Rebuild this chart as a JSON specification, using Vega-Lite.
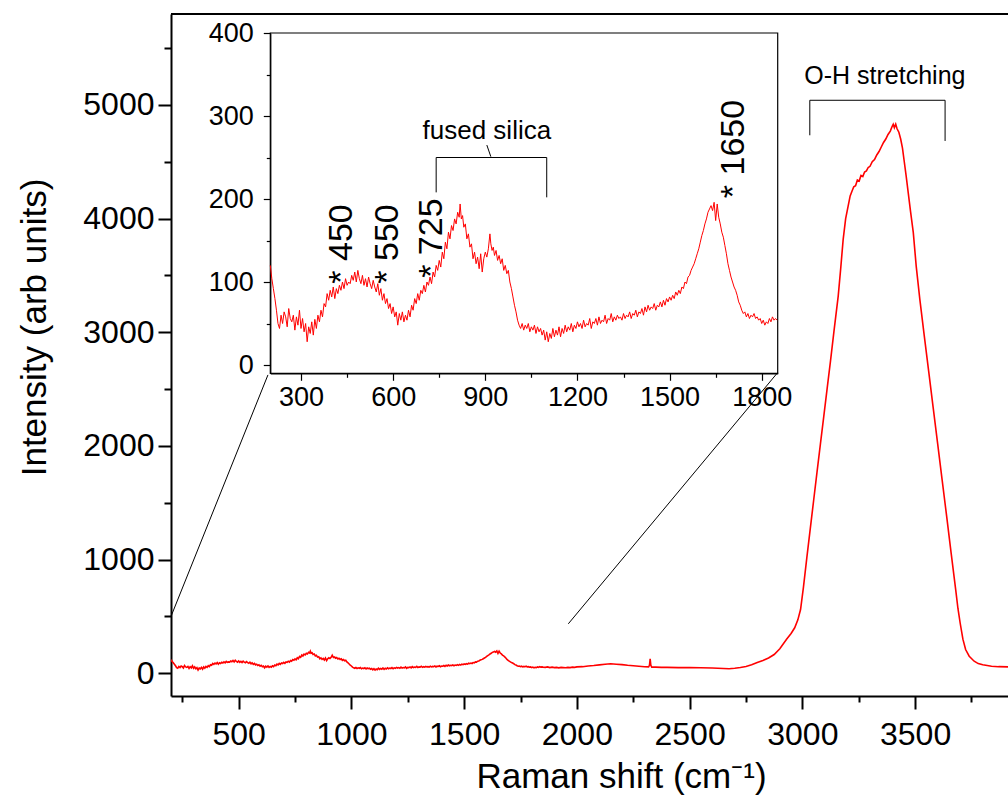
{
"$schema": "https://vega.github.io/schema/vega-lite/v6.json",
"width": 837, "height": 682,
"autosize": "none",
"padding": {"left": 171, "top": 14, "right": 0, "bottom": 104},
"background": "white",
"config": {
  "view": {"stroke": null},
  "font": "Liberation Sans",
  "axis": {"grid": false, "labelFont": "Liberation Sans", "titleFont": "Liberation Sans", "labelColor": "black", "titleColor": "black", "domainColor": "black", "tickColor": "black", "labelFlush": false, "labelOverlap": false, "titleFontWeight": "normal"},
  "text": {"font": "Liberation Sans", "color": "black"}
},
"datasets": {
 "one": [{}],
 "spec": [
{"x":200,"y":120},{"x":205,"y":104},{"x":210,"y":92},{"x":215,"y":80},{"x":220,"y":66},{"x":225,"y":50},{"x":230,"y":44},{"x":235,"y":60},{"x":240,"y":50},{"x":245,"y":64},{"x":250,"y":58},{"x":255,"y":46},{"x":260,"y":68},{"x":265,"y":56},{"x":270,"y":52},{"x":275,"y":60},{"x":280,"y":42},{"x":285,"y":58},{"x":290,"y":48},{"x":295,"y":66},{"x":300,"y":44},{"x":305,"y":56},{"x":310,"y":40},{"x":315,"y":50},{"x":320,"y":28},{"x":325,"y":46},{"x":330,"y":38},{"x":335,"y":52},{"x":340,"y":36},{"x":345,"y":55},{"x":350,"y":44},{"x":355,"y":60},{"x":360,"y":52},{"x":365,"y":66},{"x":370,"y":58},{"x":375,"y":74},{"x":380,"y":70},{"x":385,"y":86},{"x":390,"y":78},{"x":395,"y":90},{"x":400,"y":82},{"x":405,"y":94},{"x":410,"y":80},{"x":415,"y":92},{"x":420,"y":86},{"x":425,"y":96},{"x":430,"y":90},{"x":435,"y":100},{"x":440,"y":92},{"x":445,"y":104},{"x":450,"y":96},{"x":455,"y":100},{"x":460,"y":98},{"x":465,"y":108},{"x":470,"y":102},{"x":475,"y":112},{"x":480,"y":100},{"x":485,"y":114},{"x":490,"y":104},{"x":495,"y":98},{"x":500,"y":108},{"x":505,"y":96},{"x":510,"y":104},{"x":515,"y":94},{"x":520,"y":106},{"x":525,"y":98},{"x":530,"y":92},{"x":535,"y":102},{"x":540,"y":94},{"x":545,"y":88},{"x":550,"y":98},{"x":555,"y":84},{"x":560,"y":92},{"x":565,"y":78},{"x":570,"y":86},{"x":575,"y":74},{"x":580,"y":80},{"x":585,"y":68},{"x":590,"y":74},{"x":595,"y":62},{"x":600,"y":70},{"x":605,"y":58},{"x":610,"y":64},{"x":615,"y":48},{"x":620,"y":62},{"x":625,"y":54},{"x":630,"y":64},{"x":635,"y":52},{"x":640,"y":60},{"x":645,"y":54},{"x":650,"y":66},{"x":655,"y":58},{"x":660,"y":72},{"x":665,"y":66},{"x":670,"y":80},{"x":675,"y":74},{"x":680,"y":86},{"x":685,"y":78},{"x":690,"y":90},{"x":695,"y":86},{"x":700,"y":96},{"x":705,"y":88},{"x":710,"y":100},{"x":715,"y":96},{"x":720,"y":106},{"x":725,"y":98},{"x":730,"y":112},{"x":735,"y":106},{"x":740,"y":120},{"x":745,"y":114},{"x":750,"y":126},{"x":755,"y":118},{"x":760,"y":136},{"x":765,"y":128},{"x":770,"y":148},{"x":775,"y":140},{"x":780,"y":160},{"x":785,"y":152},{"x":790,"y":168},{"x":795,"y":162},{"x":800,"y":176},{"x":805,"y":170},{"x":810,"y":184},{"x":815,"y":178},{"x":818,"y":194},{"x":822,"y":176},{"x":826,"y":180},{"x":830,"y":166},{"x":835,"y":170},{"x":840,"y":152},{"x":845,"y":158},{"x":850,"y":142},{"x":855,"y":146},{"x":860,"y":128},{"x":865,"y":136},{"x":870,"y":122},{"x":875,"y":130},{"x":880,"y":116},{"x":885,"y":134},{"x":890,"y":112},{"x":895,"y":128},{"x":900,"y":136},{"x":905,"y":130},{"x":910,"y":140},{"x":915,"y":158},{"x":918,"y":146},{"x":922,"y":138},{"x":926,"y":142},{"x":930,"y":132},{"x":935,"y":138},{"x":940,"y":126},{"x":945,"y":132},{"x":950,"y":122},{"x":955,"y":128},{"x":960,"y":114},{"x":965,"y":120},{"x":970,"y":110},{"x":975,"y":114},{"x":980,"y":100},{"x":985,"y":92},{"x":990,"y":82},{"x":995,"y":72},{"x":1000,"y":64},{"x":1005,"y":54},{"x":1010,"y":48},{"x":1015,"y":44},{"x":1020,"y":50},{"x":1025,"y":42},{"x":1030,"y":48},{"x":1035,"y":44},{"x":1040,"y":50},{"x":1045,"y":40},{"x":1050,"y":46},{"x":1055,"y":42},{"x":1060,"y":48},{"x":1065,"y":38},{"x":1070,"y":46},{"x":1075,"y":40},{"x":1080,"y":44},{"x":1085,"y":36},{"x":1090,"y":42},{"x":1095,"y":30},{"x":1100,"y":40},{"x":1105,"y":28},{"x":1110,"y":38},{"x":1115,"y":32},{"x":1120,"y":44},{"x":1125,"y":34},{"x":1130,"y":42},{"x":1135,"y":36},{"x":1140,"y":46},{"x":1145,"y":34},{"x":1150,"y":44},{"x":1155,"y":38},{"x":1160,"y":48},{"x":1165,"y":40},{"x":1170,"y":46},{"x":1175,"y":42},{"x":1180,"y":50},{"x":1185,"y":40},{"x":1190,"y":48},{"x":1195,"y":44},{"x":1200,"y":52},{"x":1205,"y":46},{"x":1210,"y":50},{"x":1215,"y":44},{"x":1220,"y":54},{"x":1225,"y":46},{"x":1230,"y":50},{"x":1235,"y":48},{"x":1240,"y":56},{"x":1245,"y":44},{"x":1250,"y":52},{"x":1255,"y":50},{"x":1260,"y":56},{"x":1265,"y":48},{"x":1270,"y":58},{"x":1275,"y":50},{"x":1280,"y":54},{"x":1285,"y":52},{"x":1290,"y":60},{"x":1295,"y":50},{"x":1300,"y":56},{"x":1305,"y":54},{"x":1310,"y":62},{"x":1315,"y":52},{"x":1320,"y":58},{"x":1325,"y":54},{"x":1330,"y":60},{"x":1335,"y":56},{"x":1340,"y":58},{"x":1345,"y":54},{"x":1350,"y":62},{"x":1355,"y":56},{"x":1360,"y":60},{"x":1365,"y":58},{"x":1370,"y":64},{"x":1375,"y":56},{"x":1380,"y":62},{"x":1385,"y":60},{"x":1390,"y":66},{"x":1395,"y":58},{"x":1400,"y":64},{"x":1405,"y":62},{"x":1410,"y":68},{"x":1415,"y":60},{"x":1420,"y":70},{"x":1425,"y":64},{"x":1430,"y":72},{"x":1435,"y":66},{"x":1440,"y":70},{"x":1445,"y":68},{"x":1450,"y":74},{"x":1455,"y":66},{"x":1460,"y":72},{"x":1465,"y":70},{"x":1470,"y":76},{"x":1475,"y":70},{"x":1480,"y":78},{"x":1485,"y":72},{"x":1490,"y":80},{"x":1495,"y":76},{"x":1500,"y":82},{"x":1505,"y":78},{"x":1510,"y":84},{"x":1515,"y":80},{"x":1520,"y":88},{"x":1525,"y":84},{"x":1530,"y":90},{"x":1535,"y":86},{"x":1540,"y":94},{"x":1545,"y":92},{"x":1550,"y":100},{"x":1555,"y":98},{"x":1560,"y":106},{"x":1565,"y":108},{"x":1570,"y":114},{"x":1575,"y":118},{"x":1580,"y":122},{"x":1585,"y":128},{"x":1590,"y":134},{"x":1595,"y":140},{"x":1600,"y":148},{"x":1605,"y":156},{"x":1610,"y":162},{"x":1615,"y":170},{"x":1620,"y":176},{"x":1625,"y":184},{"x":1630,"y":188},{"x":1635,"y":192},{"x":1640,"y":186},{"x":1645,"y":196},{"x":1650,"y":174},{"x":1655,"y":194},{"x":1660,"y":178},{"x":1665,"y":170},{"x":1670,"y":160},{"x":1675,"y":154},{"x":1680,"y":144},{"x":1685,"y":134},{"x":1690,"y":122},{"x":1695,"y":114},{"x":1700,"y":106},{"x":1705,"y":100},{"x":1710,"y":94},{"x":1715,"y":90},{"x":1720,"y":84},{"x":1725,"y":76},{"x":1730,"y":72},{"x":1735,"y":66},{"x":1740,"y":62},{"x":1745,"y":64},{"x":1750,"y":58},{"x":1755,"y":62},{"x":1760,"y":56},{"x":1765,"y":60},{"x":1770,"y":58},{"x":1775,"y":62},{"x":1780,"y":56},{"x":1785,"y":58},{"x":1790,"y":54},{"x":1795,"y":56},{"x":1800,"y":50},{"x":1805,"y":54},{"x":1810,"y":48},{"x":1815,"y":52},{"x":1820,"y":50},{"x":1825,"y":56},{"x":1830,"y":52},{"x":1835,"y":58},{"x":1840,"y":54},{"x":1845,"y":56},{"x":1850,"y":54},
{"x":1860,"y":52},{"x":1870,"y":56},{"x":1880,"y":50},{"x":1890,"y":54},{"x":1900,"y":50},{"x":1910,"y":52},{"x":1920,"y":48},{"x":1930,"y":52},{"x":1940,"y":50},{"x":1950,"y":48},{"x":1960,"y":52},{"x":1970,"y":50},{"x":1980,"y":54},{"x":1990,"y":52},{"x":2000,"y":56},{"x":2025,"y":58},{"x":2050,"y":64},{"x":2075,"y":68},{"x":2100,"y":74},{"x":2125,"y":80},{"x":2150,"y":84},{"x":2175,"y":80},{"x":2200,"y":76},{"x":2225,"y":70},{"x":2250,"y":66},{"x":2275,"y":62},{"x":2300,"y":58},{"x":2318,"y":56},{"x":2322,"y":70},{"x":2325,"y":128},{"x":2328,"y":70},{"x":2332,"y":54},{"x":2350,"y":54},{"x":2375,"y":52},{"x":2400,"y":52},{"x":2450,"y":50},{"x":2500,"y":50},{"x":2550,"y":48},{"x":2600,"y":46},{"x":2650,"y":42},{"x":2675,"y":40},{"x":2700,"y":44},{"x":2725,"y":50},{"x":2750,"y":60},{"x":2775,"y":74},{"x":2800,"y":94},{"x":2825,"y":112},{"x":2850,"y":134},{"x":2875,"y":165},{"x":2900,"y":215},{"x":2930,"y":300},{"x":2950,"y":350},{"x":2966,"y":400},{"x":2980,"y":470},{"x":2992,"y":561},{"x":3005,"y":760},{"x":3020,"y":1020},{"x":3035,"y":1270},{"x":3050,"y":1520},{"x":3065,"y":1770},{"x":3080,"y":2016},{"x":3095,"y":2260},{"x":3110,"y":2507},{"x":3125,"y":2750},{"x":3140,"y":3005},{"x":3159,"y":3318},{"x":3170,"y":3560},{"x":3181,"y":3817},{"x":3192,"y":4000},{"x":3203,"y":4110},{"x":3212,"y":4200},{"x":3220,"y":4240},{"x":3228,"y":4280},{"x":3236,"y":4290},{"x":3244,"y":4340},{"x":3252,"y":4330},{"x":3260,"y":4380},{"x":3268,"y":4370},{"x":3276,"y":4410},{"x":3284,"y":4420},{"x":3292,"y":4450},{"x":3300,"y":4460},{"x":3310,"y":4500},{"x":3320,"y":4520},{"x":3330,"y":4560},{"x":3340,"y":4590},{"x":3350,"y":4630},{"x":3360,"y":4670},{"x":3370,"y":4700},{"x":3380,"y":4740},{"x":3390,"y":4770},{"x":3398,"y":4810},{"x":3403,"y":4830},{"x":3408,"y":4800},{"x":3414,"y":4830},{"x":3420,"y":4790},{"x":3428,"y":4760},{"x":3436,"y":4700},{"x":3444,"y":4620},{"x":3452,"y":4500},{"x":3460,"y":4380},{"x":3470,"y":4220},{"x":3480,"y":4060},{"x":3492,"y":3876},{"x":3505,"y":3580},{"x":3521,"y":3289},{"x":3540,"y":2980},{"x":3560,"y":2660},{"x":3580,"y":2340},{"x":3600,"y":2020},{"x":3620,"y":1700},{"x":3640,"y":1380},{"x":3660,"y":1055},{"x":3680,"y":735},{"x":3690,"y":570},{"x":3700,"y":440},{"x":3712,"y":300},{"x":3724,"y":209},{"x":3740,"y":150},{"x":3762,"y":106},{"x":3780,"y":85},{"x":3800,"y":75},{"x":3839,"y":62},{"x":3870,"y":58},{"x":3912,"y":56}
 ],
 "mainRules": [
  {"x":3033,"y":5041,"x2":3633,"y2":5041},
  {"x":3033,"y":5041,"x2":3033,"y2":4733},
  {"x":3633,"y":5041,"x2":3633,"y2":4683},
  {"x":200,"y":500,"x2":630,"y2":2625},
  {"x":1962,"y":435,"x2":2890,"y2":2644}
 ],
 "insetRules": [
  {"x":740,"y":250,"x2":1100,"y2":250},
  {"x":740,"y":250,"x2":740,"y2":208},
  {"x":1100,"y":250,"x2":1100,"y2":202},
  {"x":905,"y":265,"x2":918,"y2":251}
 ],
 "peaks": [
  {"x":466,"y":98,"label":"* 450"},
  {"x":617,"y":98,"label":"* 550"},
  {"x":759,"y":105,"label":"* 725"},
  {"x":1741,"y":201,"label":"* 1650"}
 ]
},
"layer": [
 {
  "data": {"name": "spec"},
  "mark": {"type": "line", "color": "#ff0000", "strokeWidth": 1.6, "clip": true},
  "encoding": {
   "x": {"field": "x", "type": "quantitative", "scale": {"domain": [200, 3912], "nice": false, "zero": false},
     "axis": {"orient": "bottom", "values": [500,1000,1500,2000,2500,3000,3500], "format": "d",
       "tickSize": 13, "tickWidth": 2, "domainWidth": 2, "labelFontSize": 32, "labelPadding": 10,
       "title": "Raman shift (cm⁻¹)", "titleFontSize": 35, "titleX": 450, "titleY": 91, "titleBaseline": "alphabetic", "titleAlign": "center"}},
   "y": {"field": "y", "type": "quantitative", "scale": {"domain": [-200, 5800], "nice": false, "zero": false},
     "axis": {"orient": "left", "values": [0,1000,2000,3000,4000,5000], "format": "d",
       "tickSize": 13, "tickWidth": 2, "domainWidth": 2, "labelFontSize": 32, "labelPadding": 4,
       "title": "Intensity (arb units)", "titleFontSize": 35, "titleX": -126, "titleY": 313, "titleAngle": 270, "titleBaseline": "alphabetic", "titleAlign": "center"}}
  }
 },
 {
  "data": {"name": "mainRules"},
  "mark": {"type": "rule", "color": "black", "strokeWidth": 1},
  "encoding": {
   "x": {"field": "x", "type": "quantitative", "scale": {"domain": [200, 3912], "nice": false, "zero": false}, "axis": null},
   "y": {"field": "y", "type": "quantitative", "scale": {"domain": [-200, 5800], "nice": false, "zero": false}, "axis": null},
   "x2": {"field": "x2"}, "y2": {"field": "y2"}
  }
 },
 {
  "data": {"name": "one"},
  "mark": {"type": "rule", "color": "black", "strokeWidth": 2},
  "encoding": {
   "x": {"datum": 200, "type": "quantitative", "scale": {"domain": [200, 3912], "nice": false, "zero": false}, "axis": null},
   "x2": {"datum": 3912},
   "y": {"datum": 5800, "type": "quantitative", "scale": {"domain": [-200, 5800], "nice": false, "zero": false}, "axis": null}
  }
 },
 {
  "data": {"name": "one"},
  "mark": {"type": "text", "fontSize": 25, "align": "center", "baseline": "alphabetic"},
  "encoding": {
   "x": {"datum": 3366, "type": "quantitative", "scale": {"domain": [200, 3912], "nice": false, "zero": false}, "axis": null},
   "y": {"datum": 5181, "type": "quantitative", "scale": {"domain": [-200, 5800], "nice": false, "zero": false}, "axis": null},
   "text": {"value": "O-H stretching"}
  }
 },
 {
  "data": {"name": "one"},
  "mark": {"type": "point", "opacity": 0},
  "encoding": {
   "x": {"datum": 200, "type": "quantitative", "scale": {"domain": [200, 3912], "nice": false, "zero": false},
     "axis": {"orient": "bottom", "values": [250,750,1250,1750,2250,2750,3250,3750], "labels": false, "domain": false, "tickSize": 6, "tickWidth": 2, "title": null}},
   "y": {"datum": 0, "type": "quantitative", "scale": {"domain": [-200, 5800], "nice": false, "zero": false},
     "axis": {"orient": "left", "values": [500,1500,2500,3500,4500,5500], "labels": false, "domain": false, "tickSize": 7, "tickWidth": 2, "title": null}}
  }
 },
 {
  "data": {"name": "one"},
  "mark": {"type": "rect", "filled": false, "stroke": "black", "strokeWidth": 1.2},
  "encoding": {
   "x": {"datum": 200, "type": "quantitative", "scale": {"domain": [200, 1852], "range": [99.3, 606.7], "nice": false, "zero": false}, "axis": null},
   "x2": {"datum": 1852},
   "y": {"datum": -10, "type": "quantitative", "scale": {"domain": [-10, 400], "range": [359.3, 19], "nice": false, "zero": false}, "axis": null},
   "y2": {"datum": 400}
  }
 },
 {
  "data": {"name": "spec"},
  "transform": [{"filter": "datum.x <= 1852"}],
  "mark": {"type": "line", "color": "#ff0000", "strokeWidth": 1},
  "encoding": {
   "x": {"field": "x", "type": "quantitative", "scale": {"domain": [200, 1852], "range": [99.3, 606.7], "nice": false, "zero": false},
     "axis": {"orient": "bottom", "offset": -322.7, "values": [300,600,900,1200,1500,1800], "format": "d",
       "tickSize": 7, "tickWidth": 1.2, "domainWidth": 1.2, "labelFontSize": 27, "labelPadding": 4, "title": null}},
   "y": {"field": "y", "type": "quantitative", "scale": {"domain": [-10, 400], "range": [359.3, 19], "nice": false, "zero": false},
     "axis": {"orient": "left", "offset": -99.3, "values": [0,100,200,300,400], "format": "d",
       "tickSize": 7, "tickWidth": 1.2, "domainWidth": 1.2, "labelFontSize": 27, "labelPadding": 10, "title": null}}
  }
 },
 {
  "data": {"name": "one"},
  "mark": {"type": "point", "opacity": 0},
  "encoding": {
   "x": {"datum": 300, "type": "quantitative", "scale": {"domain": [200, 1852], "range": [99.3, 606.7], "nice": false, "zero": false},
     "axis": {"orient": "bottom", "offset": -322.7, "values": [450,750,1050,1350,1650], "labels": false, "domain": false, "tickSize": 4, "tickWidth": 1.2, "title": null}},
   "y": {"datum": 100, "type": "quantitative", "scale": {"domain": [-10, 400], "range": [359.3, 19], "nice": false, "zero": false},
     "axis": {"orient": "left", "offset": -99.3, "values": [50,150,250,350], "labels": false, "domain": false, "tickSize": 4, "tickWidth": 1.2, "title": null}}
  }
 },
 {
  "data": {"name": "insetRules"},
  "mark": {"type": "rule", "color": "black", "strokeWidth": 1},
  "encoding": {
   "x": {"field": "x", "type": "quantitative", "scale": {"domain": [200, 1852], "range": [99.3, 606.7], "nice": false, "zero": false}, "axis": null},
   "y": {"field": "y", "type": "quantitative", "scale": {"domain": [-10, 400], "range": [359.3, 19], "nice": false, "zero": false}, "axis": null},
   "x2": {"field": "x2"}, "y2": {"field": "y2"}
  }
 },
 {
  "data": {"name": "peaks"},
  "mark": {"type": "text", "fontSize": 34, "angle": 270, "align": "left", "baseline": "alphabetic"},
  "encoding": {
   "x": {"field": "x", "type": "quantitative", "scale": {"domain": [200, 1852], "range": [99.3, 606.7], "nice": false, "zero": false}, "axis": null},
   "y": {"field": "y", "type": "quantitative", "scale": {"domain": [-10, 400], "range": [359.3, 19], "nice": false, "zero": false}, "axis": null},
   "text": {"field": "label"}
  }
 },
 {
  "data": {"name": "one"},
  "mark": {"type": "text", "fontSize": 26, "align": "center", "baseline": "alphabetic"},
  "encoding": {
   "x": {"datum": 905, "type": "quantitative", "scale": {"domain": [200, 1852], "range": [99.3, 606.7], "nice": false, "zero": false}, "axis": null},
   "y": {"datum": 272, "type": "quantitative", "scale": {"domain": [-10, 400], "range": [359.3, 19], "nice": false, "zero": false}, "axis": null},
   "text": {"value": "fused silica"}
  }
 }
],
"resolve": {"scale": {"x": "independent", "y": "independent"}}
}
